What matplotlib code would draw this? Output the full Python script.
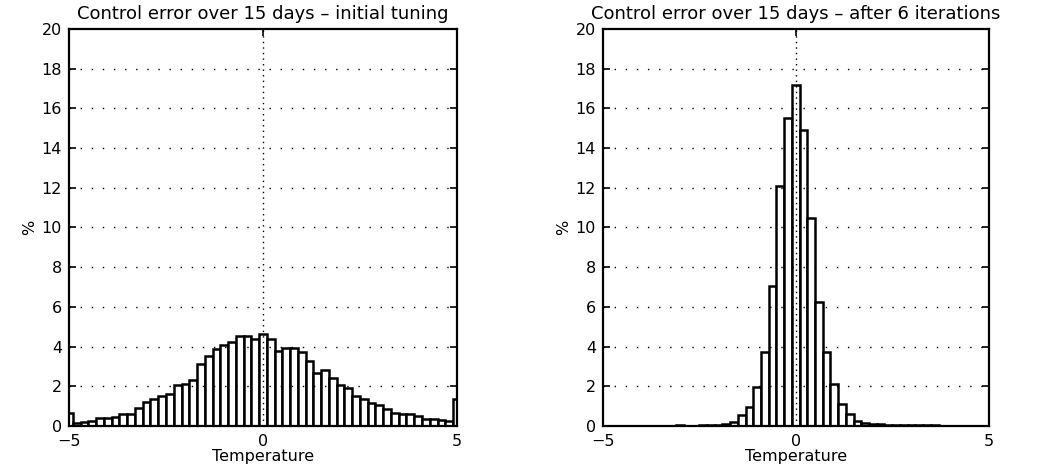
import numpy as np
import matplotlib
matplotlib.use("Agg")
import matplotlib.pyplot as plt

# =====================================================
# Data (percent per 0.2-wide bin, centres -5 ... 5)
# =====================================================

centres = np.round(np.arange(-5.0, 5.0001, 0.2), 1)

initial_pct = [
    0.65, 0.15, 0.20, 0.25, 0.38, 0.40, 0.45, 0.60, 0.62, 0.90,
    1.20, 1.35, 1.52, 1.62, 2.05, 2.10, 2.30, 3.10, 3.50, 3.86,
    4.10, 4.23, 4.52, 4.55, 4.40, 4.62, 4.40, 3.75, 3.95, 3.90,
    3.72, 3.28, 2.65, 2.80, 2.40, 2.06, 1.90, 1.50, 1.38, 1.16,
    1.04, 0.86, 0.64, 0.62, 0.60, 0.48, 0.37, 0.36, 0.30, 0.25,
    1.35,
]

tuned_pct = [
    0.00, 0.00, 0.00, 0.00, 0.00, 0.00, 0.00, 0.00, 0.01, 0.02,
    0.04, 0.02, 0.02, 0.03, 0.05, 0.06, 0.12, 0.22, 0.55, 0.97,
    1.95, 3.70, 7.07, 12.10, 15.50, 17.20, 14.90, 10.50, 6.25, 3.73,
    2.10, 1.10, 0.58, 0.24, 0.14, 0.12, 0.08, 0.06, 0.05, 0.05,
    0.04, 0.04, 0.03, 0.03, 0.02, 0.01, 0.00, 0.00, 0.00, 0.00,
    0.00,
]

titles = [
    "Control error over 15 days \u2013 initial tuning",
    "Control error over 15 days \u2013 after 6 iterations",
]

y_ticks = list(range(0, 21, 2))
x_ticks = [-5, 0, 5]

# =====================================================
# Figure
# =====================================================

plt.rcParams["font.family"] = ["DejaVu Sans"]
plt.rcParams["font.size"] = 12

fig = plt.figure(figsize=(10.54, 4.67), dpi=100)

ax_left = fig.add_axes([0.0655, 0.088, 0.368, 0.85])
ax_right = fig.add_axes([0.572, 0.088, 0.366, 0.85])

for ax, values, title in zip([ax_left, ax_right], [initial_pct, tuned_pct], titles):
    ax.bar(centres, values, width=0.2, color="white",
           edgecolor="black", linewidth=1.8, zorder=2)

    ax.set_xlim(-5, 5)
    ax.set_ylim(0, 20)
    ax.set_xticks(x_ticks)
    ax.set_yticks(y_ticks)

    # MATLAB-like dotted grid, drawn on top of the bars
    for yv in y_ticks[1:-1]:
        ax.axhline(yv, color="black", linestyle=(0, (1, 7)), linewidth=1.0, zorder=3)
    ax.axvline(0, color="black", linestyle=(0, (1, 3)), linewidth=1.0, zorder=3)

    ax.tick_params(direction="in", length=5, width=1.2, top=True, right=True,
                   labelsize=11.5)
    ax.tick_params(axis="x", pad=6)
    ax.tick_params(axis="y", pad=5)
    for sp in ax.spines.values():
        sp.set_linewidth(1.6)

    ax.set_title(title, fontsize=13, pad=7)
    ax.set_xlabel("Temperature", fontsize=11.5, labelpad=0)
    ax.set_ylabel("%", fontsize=11.5, labelpad=3)

fig.savefig("out.png", dpi=100)
plt.close(fig)
